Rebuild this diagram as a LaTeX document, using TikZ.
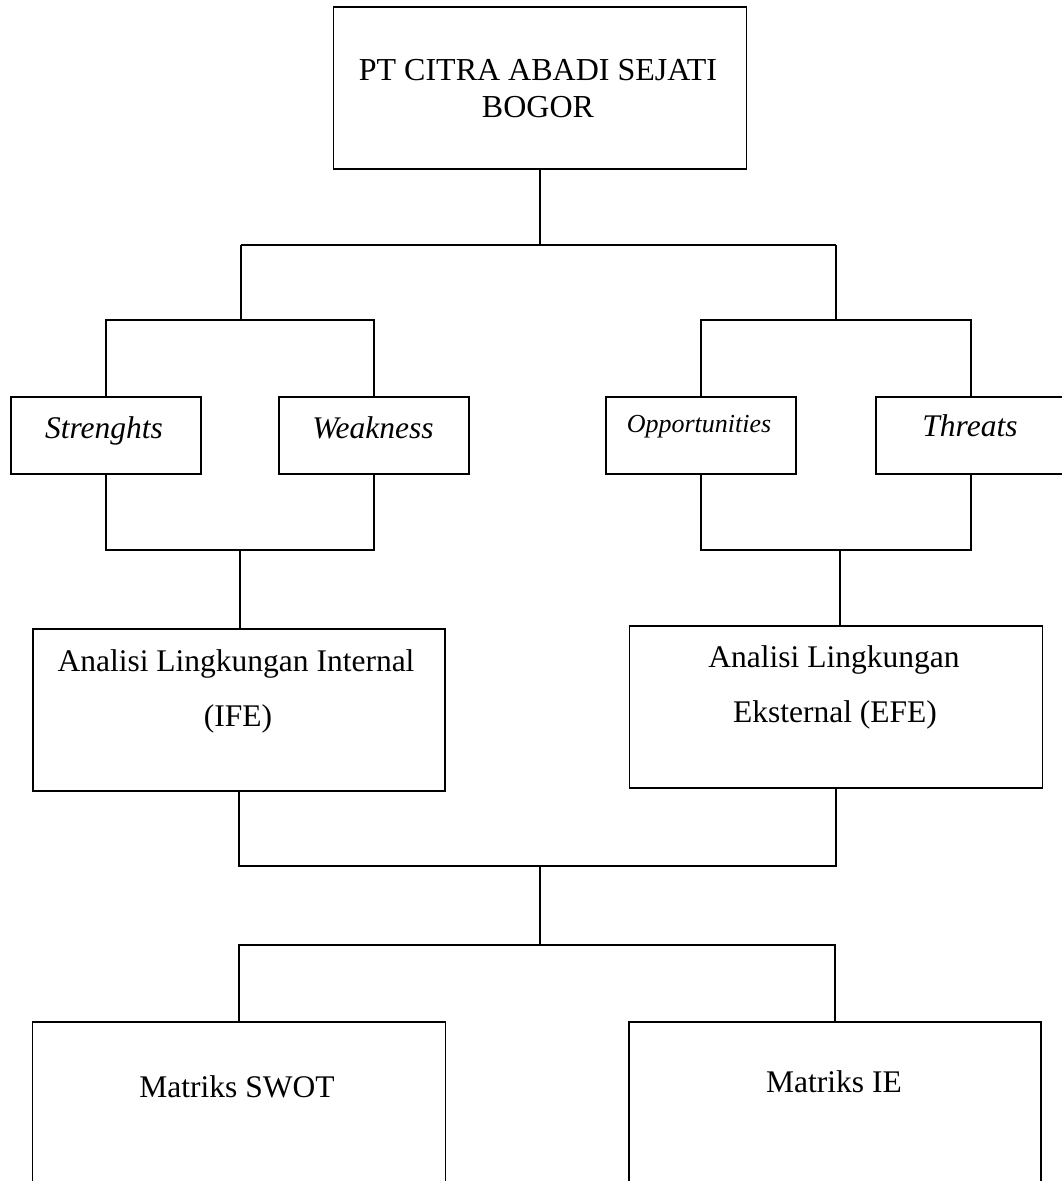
\documentclass[tikz,border=0pt]{standalone}
\usepackage{fontspec}
\setmainfont{Liberation Serif}
\begin{document}
\begin{tikzpicture}[x=1pt,y=-1pt,
  box/.style={draw=black,line width=1.3pt,inner sep=0pt,outer sep=0pt},
  txt/.style={inner sep=0pt,anchor=base,font=\fontsize{31.5}{38}\selectfont},
  conn/.style={draw=black,line width=1.3pt}]
\useasboundingbox (0,0) rectangle (1062,1181);
\clip (0,0) rectangle (1062,1181);
\fill[white] (0,0) rectangle (1062,1181);
% boxes
\node[box,minimum width=413pt,minimum height=162pt] (top) at (540,88) {};
\node[box,minimum width=190pt,minimum height=77pt] (S) at (106,435.5) {};
\node[box,minimum width=190pt,minimum height=77pt] (W) at (374,435.5) {};
\node[box,minimum width=190pt,minimum height=77pt] (O) at (701,435.5) {};
\node[box,minimum width=190pt,minimum height=77pt] (T) at (971,435.5) {};
\node[box,minimum width=412pt,minimum height=162pt] (IFE) at (239,710) {};
\node[box,minimum width=413pt,minimum height=162pt] (EFE) at (836,707) {};
\node[box,minimum width=413pt,minimum height=240pt] (SWOT) at (239,1142) {};
\node[box,minimum width=412pt,minimum height=240pt] (IE) at (835,1142) {};
% texts
\node[txt,font=\fontsize{32}{38}\selectfont] (topA) at (538,80) {PT CITRA ABADI SEJATI};
\node[txt,font=\fontsize{32}{38}\selectfont] (topB) at (538,117) {BOGOR};
\node[txt,font=\fontsize{31.5}{38}\selectfont\itshape] (St) at (104,438) {Strenghts};
\node[txt,font=\fontsize{31.5}{38}\selectfont\itshape] (Wt) at (373,438) {Weakness};
\node[txt,font=\fontsize{26}{31}\selectfont\itshape] (Ot) at (699,432) {Opportunities};
\node[txt,font=\fontsize{31.5}{38}\selectfont\itshape] (Tt) at (970,436) {Threats};
\node[txt] (IFEa) at (236,671) {Analisi Lingkungan Internal};
\node[txt] (IFEb) at (238,726) {(IFE)};
\node[txt] (EFEa) at (834,667) {Analisi Lingkungan};
\node[txt] (EFEb) at (835,722) {Eksternal (EFE)};
\node[txt] (SWOTt) at (237,1097) {Matriks SWOT};
\node[txt] (IEt) at (834,1092) {Matriks IE};
% junction coordinates
\coordinate (j0) at (540,245);
\coordinate (jL) at (241,245);
\coordinate (jR) at (836,245);
\coordinate (a1) at (241,320);
\coordinate (a2) at (836,320);
\coordinate (b1) at (240,550);
\coordinate (b2) at (840,550);
\coordinate (c1) at (540,866);
\coordinate (d1) at (540,945);
% connectors
\draw[conn] (top.south) -- (j0);
\draw[conn] (jL) -- (jR);
\draw[conn] (jL) -- (a1);
\draw[conn] (jR) -- (a2);
\draw[conn] (S.north) |- (a1) -| (W.north);
\draw[conn] (O.north) |- (a2) -| (T.north);
\draw[conn] (S.south) |- (b1) -| (W.south);
\draw[conn] (O.south) |- (b2) -| (T.south);
\draw[conn] (b1) -- (b1 |- IFE.north);
\draw[conn] (b2) -- (b2 |- EFE.north);
\draw[conn] (IFE.south) |- (c1) -| (EFE.south);
\draw[conn] (c1) -- (d1);
\draw[conn] (SWOT.north) |- (d1) -| (IE.north);
\end{tikzpicture}
\end{document}
